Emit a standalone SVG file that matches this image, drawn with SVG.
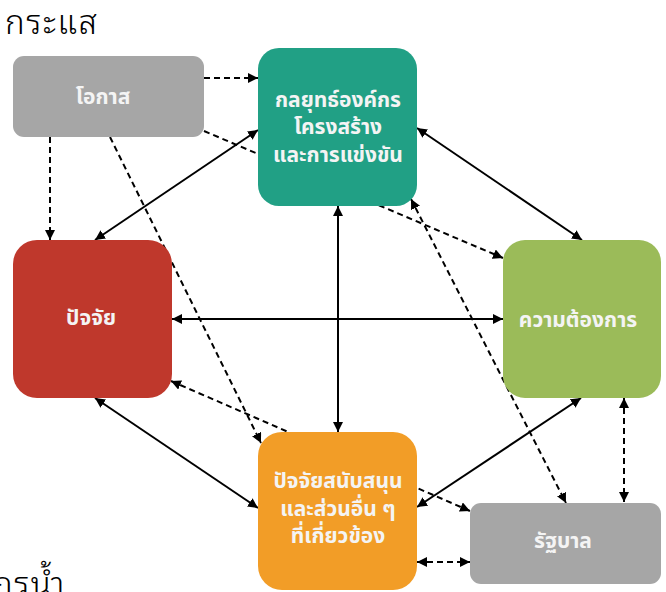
<svg xmlns="http://www.w3.org/2000/svg" width="666" height="592" viewBox="0 0 666 592">
  <style>
    .title { font-family: "Noto Sans Thai Looped", "Noto Sans Thai", "Noto Sans", sans-serif; font-size: 33px; font-weight: 300; letter-spacing: 1.5px; fill: #000; }
    .label { font-family: "Noto Sans Thai", "Noto Sans", "DejaVu Sans", sans-serif; font-size: 21px; font-weight: bold; fill: #f4f4f4; text-anchor: middle; }
    .solid { stroke: #000; stroke-width: 2; fill: none; }
    .dash { stroke: #000; stroke-width: 2; fill: none; stroke-dasharray: 6 4; }
    .one { marker-end: url(#head); }
    .two { marker-start: url(#head); marker-end: url(#head); }
  </style>
  <defs>
    <marker id="head" markerUnits="userSpaceOnUse" markerWidth="11" markerHeight="10" refX="10" refY="5" orient="auto-start-reverse" viewBox="0 0 11 10">
      <path d="M0,0 L10,5 L0,10 z" fill="#000"/>
    </marker>
  </defs>

  <rect width="666" height="592" fill="#fff"/>

  <text class="title" x="5" y="34">กระแส</text>
  <text class="title" x="-7" y="596">กรน้ำ</text>

  <!-- connectors, drawn beneath the boxes -->
  <g id="connectors">
    <line class="dash one" x1="204" y1="78" x2="258" y2="78"/>
    <line class="dash one" x1="50" y1="137" x2="50" y2="240"/>
    <line class="dash one" x1="204" y1="131" x2="503" y2="258"/>
    <line class="dash one" x1="110" y1="137" x2="261" y2="443"/>
    <line class="solid two" x1="95" y1="240" x2="258" y2="130"/>
    <line class="solid two" x1="417" y1="128" x2="582" y2="240"/>
    <line class="solid two" x1="172" y1="319" x2="503" y2="319"/>
    <line class="solid two" x1="338" y1="206" x2="338" y2="432"/>
    <line class="dash two" x1="411" y1="199" x2="566" y2="503"/>
    <line class="dash two" x1="171" y1="381" x2="470" y2="511"/>
    <line class="solid two" x1="95" y1="398" x2="258" y2="508"/>
    <line class="solid two" x1="581" y1="398" x2="417" y2="507"/>
    <line class="dash two" x1="624" y1="398" x2="624" y2="502"/>
    <line class="dash two" x1="417" y1="562" x2="470" y2="562"/>
  </g>

  <g id="opportunity">
    <rect x="13" y="56" width="191" height="81" rx="11" fill="#a6a6a6"/>
    <text class="label" x="103" y="104">โอกาส</text>
  </g>

  <g id="strategy">
    <rect x="258" y="48" width="159" height="158" rx="21" fill="#21a085"/>
    <text class="label" x="338" y="107">กลยุทธ์องค์กร</text>
    <text class="label" x="338" y="134">โครงสร้าง</text>
    <text class="label" x="338" y="162">และการแข่งขัน</text>
  </g>

  <g id="factors">
    <rect x="13" y="240" width="159" height="158" rx="24" fill="#bf382c"/>
    <text class="label" x="91" y="325">ปัจจัย</text>
  </g>

  <g id="demand">
    <rect x="503" y="240" width="158" height="158" rx="22" fill="#9bbb59"/>
    <text class="label" x="578" y="327">ความต้องการ</text>
  </g>

  <g id="supporting">
    <rect x="258" y="432" width="159" height="158" rx="24" fill="#f29d27"/>
    <text class="label" x="338" y="488">ปัจจัยสนับสนุน</text>
    <text class="label" x="338" y="516">และส่วนอื่น ๆ</text>
    <text class="label" x="338" y="543">ที่เกี่ยวข้อง</text>
  </g>

  <g id="government">
    <rect x="470" y="503" width="191" height="81" rx="11" fill="#a6a6a6"/>
    <text class="label" x="563" y="548">รัฐบาล</text>
  </g>
</svg>
